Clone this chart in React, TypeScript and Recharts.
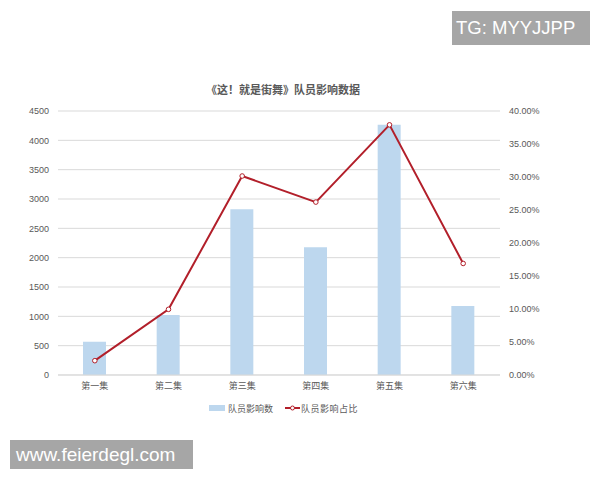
import React from 'react';
import { ComposedChart, Bar, Line, XAxis, YAxis, CartesianGrid } from 'recharts';

const title = '《这！就是街舞》队员影响数据';
const categories = ['第一集', '第二集', '第三集', '第四集', '第五集', '第六集'];
const memberInfluence = [567, 1023, 2824, 2176, 4267, 1176];
const influenceShare = [0.0217, 0.0995, 0.3015, 0.262, 0.379, 0.169];
const leftTicks = [0, 500, 1000, 1500, 2000, 2500, 3000, 3500, 4000, 4500];
const rightTicks = [0, 0.05, 0.1, 0.15, 0.2, 0.25, 0.3, 0.35, 0.4];
const barName = '队员影响数';
const lineName = '队员影响占比';
const watermarkTop = 'TG: MYYJJPP';
const watermarkBottom = 'www.feierdegl.com';

const data = categories.map((c, i) => ({
  category: c,
  count: memberInfluence[i],
  share: influenceShare[i],
}));

const BAR = '#BDD7EE';
const LINE = '#B21F2A';
const GRID = '#D9D9D9';
const TEXT = '#595959';
const FONT = '"Liberation Sans", "Noto Sans CJK SC", sans-serif';

export default function App() {
  return (
    <div style={{ position: 'absolute', left: 0, top: 0, width: 600, height: 480, background: '#fff', fontFamily: FONT }}>
      <ComposedChart width={600} height={480} data={data} margin={{ top: 111, right: 0, bottom: 75, left: 0 }}>
        <CartesianGrid yAxisId="left" vertical={false} stroke={GRID} />
        <XAxis
          dataKey="category"
          axisLine={{ stroke: GRID }}
          tickLine={false}
          tick={{ fontSize: 9, fill: TEXT, fontFamily: FONT }}
          interval={0}
          height={30}
        />
        <YAxis
          yAxisId="left"
          width={58}
          domain={[0, 4500]}
          ticks={leftTicks}
          interval={0}
          axisLine={false}
          tickLine={false}
          tickMargin={3}
          tick={{ fontSize: 9, fill: TEXT, fontFamily: FONT }}
        />
        <YAxis
          yAxisId="right"
          orientation="right"
          width={100}
          domain={[0, 0.4]}
          ticks={rightTicks}
          interval={0}
          axisLine={false}
          tickLine={false}
          tickMargin={3}
          tick={{ fontSize: 9, fill: TEXT, fontFamily: FONT, textAnchor: 'start' }}
          tickFormatter={(v: number) => (v * 100).toFixed(2) + '%'}
        />
        <Bar yAxisId="left" dataKey="count" name={barName} fill={BAR} barSize={23} isAnimationActive={false} />
        <Line
          yAxisId="right"
          dataKey="share"
          name={lineName}
          stroke={LINE}
          strokeWidth={2}
          dot={{ r: 2.3, fill: '#fff', stroke: LINE, strokeWidth: 1 }}
          activeDot={false}
          isAnimationActive={false}
        />
      </ComposedChart>

      <div style={{ position: 'absolute', left: 183, top: 84, width: 200, textAlign: 'center', fontSize: 11, fontWeight: 'bold', color: TEXT, lineHeight: '13px', whiteSpace: 'nowrap' }}>
        {title}
      </div>

      <div style={{ position: 'absolute', left: 209, top: 401, height: 14, display: 'flex', alignItems: 'center', fontSize: 9, color: TEXT, whiteSpace: 'nowrap' }}>
        <span style={{ display: 'inline-block', width: 16, height: 6, background: BAR, marginRight: 3 }} />
        <span style={{ marginRight: 12 }}>{barName}</span>
        <svg width={15} height={8} style={{ marginRight: 1 }}>
          <line x1={0} y1={4} x2={15} y2={4} stroke={LINE} strokeWidth={2} />
          <circle cx={7.5} cy={4} r={2} fill="#fff" stroke={LINE} strokeWidth={1} />
        </svg>
        <span style={{ letterSpacing: 0.5 }}>{lineName}</span>
      </div>

      <div style={{ position: 'absolute', left: 452, top: 11, width: 138, height: 34, background: '#A6A6A6', color: '#fff', fontSize: 18.5, lineHeight: '34px', paddingLeft: 4, boxSizing: 'border-box', fontFamily: '"Liberation Sans", sans-serif', whiteSpace: 'nowrap' }}>
        {watermarkTop}
      </div>
      <div style={{ position: 'absolute', left: 10, top: 440, width: 183, height: 29, background: '#A6A6A6', color: '#fff', fontSize: 19, lineHeight: '29px', paddingLeft: 6, boxSizing: 'border-box', fontFamily: '"Liberation Sans", sans-serif', whiteSpace: 'nowrap' }}>
        {watermarkBottom}
      </div>
    </div>
  );
}
